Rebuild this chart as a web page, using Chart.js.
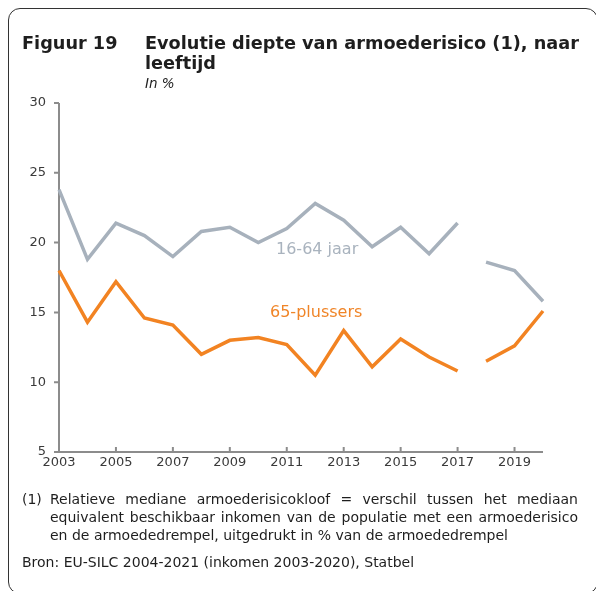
<!DOCTYPE html>
<html>
<head>
<meta charset="utf-8">
<script src="https://cdn.jsdelivr.net/npm/chart.js@4.4.1/dist/chart.umd.min.js"></script>
<style>
  body { margin: 0; background: #fff; font-family: "DejaVu Sans", sans-serif; color: #1e1e1e; }
  #wrap { position: relative; width: 596px; height: 591px; overflow: hidden; }
  #frame { position: absolute; left: 8px; top: 8px; width: 588px; height: 584px; border: 1px solid #333; border-radius: 12px; }
  #chart { position: absolute; left: 0; top: 0; }
  .t { position: absolute; white-space: nowrap; }
  #fig { left: 22px; top: 33px; font-size: 17.7px; line-height: 20px; font-weight: bold; }
  #title { left: 145px; top: 33px; font-size: 17.7px; line-height: 20px; font-weight: bold; }
  #unit { left: 145px; top: 75px; font-size: 13.5px; font-style: italic; line-height: 16px; }
  #note { left: 22px; top: 490px; width: 556px; font-size: 14px; line-height: 18px; white-space: normal; }
  #note .num { position: absolute; left: 0; top: 0; }
  #note div.l { margin-left: 28px; white-space: nowrap; text-align: justify; text-align-last: justify; }
  #note div.last { text-align-last: left; }
  #bron { left: 22px; top: 553px; font-size: 14px; line-height: 18px; }
  #lab1 { left: 276px; top: 239px; font-size: 16px; line-height: 20px; color: #a9b3be; }
  #lab2 { left: 270px; top: 302px; font-size: 16px; line-height: 20px; color: #f08528; }
</style>
</head>
<body>
<div id="wrap">
  <div id="frame"></div>
  <canvas id="chart" width="596" height="591"></canvas>
  <div class="t" id="fig">Figuur 19</div>
  <div class="t" id="title">Evolutie diepte van armoederisico (1), naar<br>leeftijd</div>
  <div class="t" id="unit">In %</div>
  <div class="t" id="lab1">16-64 jaar</div>
  <div class="t" id="lab2">65-plussers</div>
  <div class="t" id="note">
    <span class="num">(1)</span>
    <div class="l">Relatieve mediane armoederisicokloof = verschil tussen het mediaan</div>
    <div class="l">equivalent beschikbaar inkomen van de populatie met een armoederisico</div>
    <div class="l last">en de armoededrempel, uitgedrukt in % van de armoededrempel</div>
  </div>
  <div class="t" id="bron">Bron: EU-SILC 2004-2021 (inkomen 2003-2020), Statbel</div>
</div>
<script>
// jaren (inkomensjaar)
const years = [2003, 2004, 2005, 2006, 2007, 2008, 2009, 2010, 2011, 2012, 2013, 2014, 2015, 2016, 2017, 2018, 2019, 2020];
// 16-64 jaar
const age16to64 = [23.8, 18.8, 21.4, 20.5, 19.0, 20.8, 21.1, 20.0, 21.0, 22.8, 21.6, 19.7, 21.1, 19.2, 21.4, 18.6, 18.0, 15.8];
// 65-plussers
const age65plus = [18.0, 14.3, 17.2, 14.6, 14.1, 12.0, 13.0, 13.2, 12.7, 10.5, 13.7, 11.1, 13.1, 11.8, 10.8, 11.5, 12.6, 15.1];
const yTicks = [5, 10, 15, 20, 25, 30];
const breakAfter = 2017; // breuk in de reeks

const grey = "#a7b1bc";
const orange = "#f28322";
const axisColor = "#8c8c8c";
const tickFont = { family: "DejaVu Sans", size: 13 };

// lijn niet tekenen tussen 2017 en 2018
const gap = color => ctx => years[ctx.p0DataIndex] === breakAfter ? "rgba(0,0,0,0)" : color;

// assen zoals in het origineel: grijze lijnen, korte tickjes
const axesPlugin = {
  id: "axes",
  beforeDatasetsDraw(chart) {
    const { ctx, chartArea: a, scales: { x, y } } = chart;
    ctx.save();
    ctx.strokeStyle = axisColor;
    ctx.lineWidth = 2;
    ctx.beginPath();
    ctx.moveTo(a.left, a.top);
    ctx.lineTo(a.left, a.bottom);
    ctx.lineTo(a.right, a.bottom);
    yTicks.forEach(v => {
      const py = y.getPixelForValue(v);
      ctx.moveTo(a.left - 5, py);
      ctx.lineTo(a.left, py);
    });
    x.ticks.forEach(t => {
      const px = x.getPixelForValue(t.value);
      ctx.moveTo(px, a.bottom);
      ctx.lineTo(px, a.bottom - 5);
    });
    ctx.stroke();
    ctx.restore();
  }
};

new Chart(document.getElementById("chart"), {
  type: "line",
  data: {
    labels: years,
    datasets: [
      {
        label: "16-64 jaar",
        data: age16to64,
        borderColor: grey,
        borderWidth: 3.5,
        pointRadius: 0,
        tension: 0,
        segment: { borderColor: gap(grey) }
      },
      {
        label: "65-plussers",
        data: age65plus,
        borderColor: orange,
        borderWidth: 3.5,
        pointRadius: 0,
        tension: 0,
        segment: { borderColor: gap(orange) }
      }
    ]
  },
  options: {
    responsive: false,
    animation: false,
    layout: { padding: { left: 0, top: 103, right: 53, bottom: 0 } },
    plugins: { legend: { display: false }, tooltip: { enabled: false } },
    scales: {
      x: {
        type: "category",
        offset: false,
        grid: { display: false, drawTicks: false },
        border: { display: false },
        ticks: { autoSkip: false, maxRotation: 0, color: "#3a3a3a", font: tickFont, padding: 3 },
        afterBuildTicks: s => { s.ticks = s.ticks.filter(t => t.value % 2 === 0); },
        afterFit: s => { s.height = 139; }
      },
      y: {
        min: 5,
        max: 30,
        grid: { display: false, drawTicks: false },
        border: { display: false },
        afterBuildTicks: s => { s.ticks = yTicks.map(v => ({ value: v })); },
        ticks: { color: "#3a3a3a", font: tickFont, padding: 13 },
        afterFit: s => { s.width = 59; }
      }
    }
  },
  plugins: [axesPlugin]
});
</script>
</body>
</html>
